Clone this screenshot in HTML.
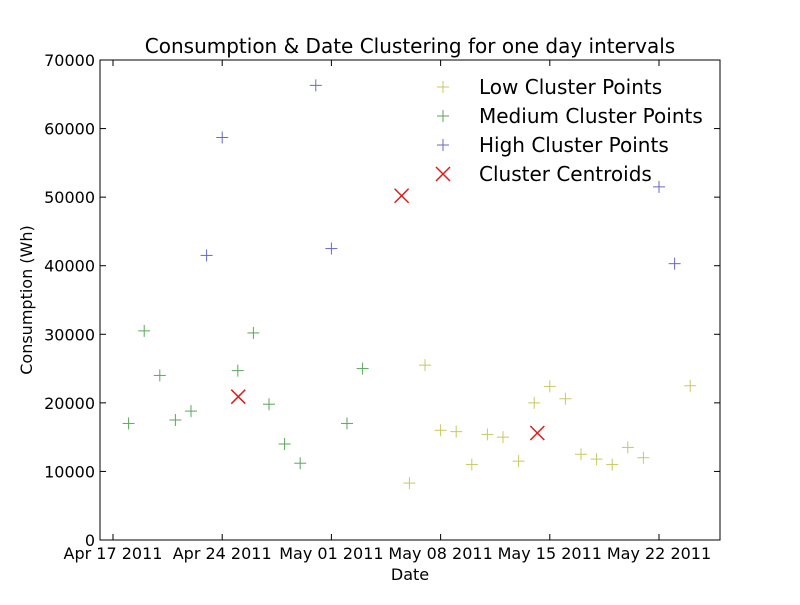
<!DOCTYPE html>
<html><head><meta charset="utf-8"><style>
body{margin:0;background:#fff;width:800px;height:600px;overflow:hidden}
svg text{font-family:"DejaVu Sans","Liberation Sans",sans-serif;fill:#000}
</style></head><body>
<svg id="chart" width="800" height="600">
<rect x="0" y="0" width="800" height="600" fill="#fff"/>
<text x="410" y="53" font-size="20" text-anchor="middle">Consumption &amp; Date Clustering for one day intervals</text>
<g id="marks"></g>
<g id="axes"></g>
<rect x="100" y="60" width="620" height="480" fill="none" stroke="#000" stroke-width="1"/>
<text x="410" y="580" font-size="16" text-anchor="middle">Date</text>
<text x="32" y="300" font-size="16" text-anchor="middle" transform="rotate(-90 32 300)">Consumption (Wh)</text>
<g id="legend"></g>
</svg>
<script>
// day index: 0 = Apr 17 2011
const lowDays=[19,20,21,22,23,24,25,26,27,28,29,30,31,32,33,34,37];
const lowVals=[8300,25500,16000,15800,11000,15400,15000,11500,20000,22400,20600,12500,11800,11000,13500,12000,22500];
const medDays=[1,2,3,4,5,8,9,10,11,12,15,16];
const medVals=[17000,30500,24000,17500,18800,24700,30200,19800,14000,11200,17000,25000];
const highDays=[6,7,13,14,35,36];
const highVals=[41500,58700,66300,42500,51500,40300];
const centDays=[8.03,18.5,27.2];
const centVals=[20900,50200,15600];
const yTicks=[0,10000,20000,30000,40000,50000,60000,70000];
const xTickDays=[0,7,14,21,28,35];
const xTickLabels=["Apr 17 2011","Apr 24 2011","May 01 2011","May 08 2011","May 15 2011","May 22 2011"];
const legendLabels=["Low Cluster Points","Medium Cluster Points","High Cluster Points","Cluster Centroids"];

const NS="http://www.w3.org/2000/svg";
const xs=d=>113+d*15.6;
const ys=v=>540-v*480/70000;
function mk(tag,attrs,parent){const e=document.createElementNS(NS,tag);for(const k in attrs)e.setAttribute(k,attrs[k]);parent.appendChild(e);return e;}
const marks=document.getElementById('marks'),axes=document.getElementById('axes'),legend=document.getElementById('legend');
function plus(x,y,c,parent,s){const g=mk('g',{},parent);mk('line',{x1:x-s,y1:y,x2:x+s,y2:y,stroke:c,'stroke-width':1},g);mk('line',{x1:x,y1:y-s,x2:x,y2:y+s,stroke:c,'stroke-width':1},g);return g;}
function cross(x,y,c,parent,s){const g=mk('g',{},parent);mk('line',{x1:x-s,y1:y-s,x2:x+s,y2:y+s,stroke:c,'stroke-width':1.5},g);mk('line',{x1:x-s,y1:y+s,x2:x+s,y2:y-s,stroke:c,'stroke-width':1.5},g);return g;}
const cols=["#c8c860","#5aa75a","#6767d0","#e31a1a"];
lowDays.forEach((d,i)=>{const g=plus(xs(d),ys(lowVals[i]),cols[0],marks,6);

});
medDays.forEach((d,i)=>{const g=plus(xs(d),ys(medVals[i]),cols[1],marks,6);

});
highDays.forEach((d,i)=>{const g=plus(xs(d),ys(highVals[i]),cols[2],marks,6);

});
centDays.forEach((d,i)=>{const g=cross(xs(d),ys(centVals[i]),cols[3],marks,7);

});
yTicks.forEach(v=>{const y=ys(v);
mk('line',{x1:100,y1:y,x2:106,y2:y,stroke:'#000'},axes);mk('line',{x1:714,y1:y,x2:720,y2:y,stroke:'#000'},axes);
const t=mk('text',{x:95,y:y+6,'font-size':16,'text-anchor':'end'},axes);t.textContent=v;

});
xTickDays.forEach((d,i)=>{const x=xs(d);
mk('line',{x1:x,y1:540,x2:x,y2:534,stroke:'#000'},axes);mk('line',{x1:x,y1:60,x2:x,y2:66,stroke:'#000'},axes);
const t=mk('text',{x:x,y:559,'font-size':16,'text-anchor':'middle'},axes);t.textContent=xTickLabels[i];

});
legendLabels.forEach((l,i)=>{const y=87+i*29;
const g=mk('g',{},legend);


if(i<3)plus(443,y,cols[i],g,6);else cross(443,y,cols[3],g,7);
const t=mk('text',{x:479,y:y+7,'font-size':20},g);t.textContent=l;});
</script>
</body></html>
